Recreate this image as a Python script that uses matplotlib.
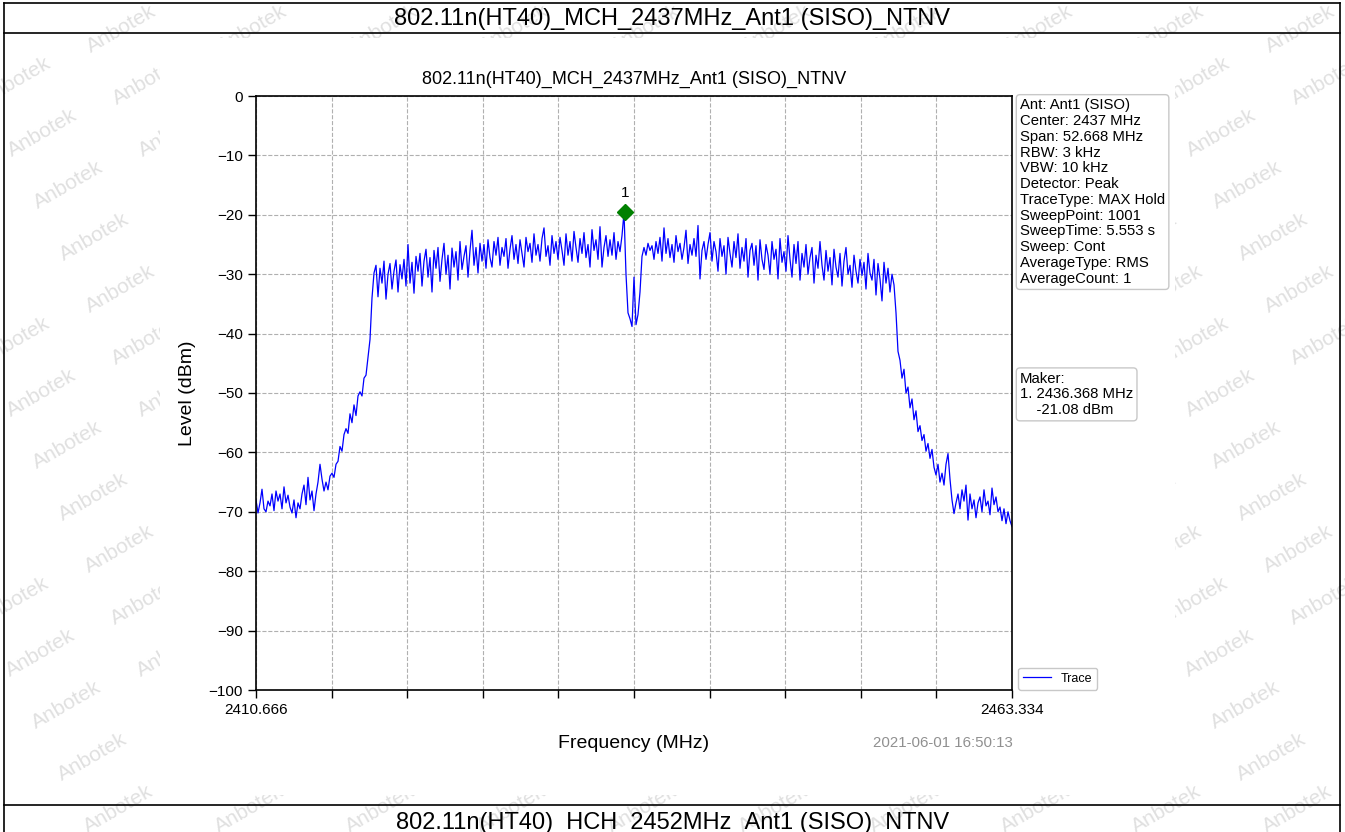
import numpy as np
import matplotlib
matplotlib.use("Agg")
import matplotlib.pyplot as plt
from matplotlib.lines import Line2D
from matplotlib.patches import Rectangle

plt.rcParams["font.family"] = ["Liberation Sans", "DejaVu Sans"]

W, H = 1345, 832

title = "802.11n(HT40)_MCH_2437MHz_Ant1 (SISO)_NTNV"
next_title = "802.11n(HT40)_HCH_2452MHz_Ant1 (SISO)_NTNV"
f_start, f_stop = 2410.666, 2463.334
y_ticks = [0, -10, -20, -30, -40, -50, -60, -70, -80, -90, -100]
x_tick_labels = ["2410.666", "", "", "", "", "", "", "", "", "", "2463.334"]
date_text = "2021-06-01 16:50:13"
info_lines = ["Ant: Ant1 (SISO)", "Center: 2437 MHz", "Span: 52.668 MHz", "RBW: 3 kHz",
              "VBW: 10 kHz", "Detector: Peak", "TraceType: MAX Hold", "SweepPoint: 1001",
              "SweepTime: 5.553 s", "Sweep: Cont", "AverageType: RMS", "AverageCount: 1"]
marker_freq = 2436.368
marker_level_text = -21.08

floor_left = [-68.0, -70.2, -68.5, -66.2, -69.5, -70.0, -68.2, -69.0, -67.0, -69.8,
              -66.5, -68.2, -67.0, -69.5, -65.8, -68.5, -67.2, -69.2, -70.2, -68.0,
              -71.0, -68.5, -69.5, -67.0, -65.5, -68.8, -64.2, -68.0, -66.5, -69.8,
              -67.0, -65.0]
skirt_left = [-62.0, -64.5, -66.5, -65.0, -66.3, -64.0, -63.5, -64.2, -62.0, -61.5,
              -59.0, -59.8, -57.0, -56.0, -56.8, -53.5, -55.0, -52.0, -53.8, -50.5,
              -49.8, -50.5, -47.5, -47.0, -44.0, -41.0, -34.0, -29.8]
plateau_left = [-28.5, -33.8, -29.0, -31.5, -27.8, -34.2, -30.0, -28.2, -32.5, -29.5,
                -27.6, -33.0, -28.4, -30.8, -27.5, -32.0,
                -25.0, -31.5, -28.0, -33.2, -27.0, -29.5, -26.5, -32.0, -27.8, -25.8,
                -30.5, -27.2, -33.0, -26.0, -29.0, -25.5, -31.2, -27.5, -24.8, -30.0,
                -26.8, -32.5, -25.6, -28.8, -26.2, -31.0, -24.5, -29.2, -27.0, -25.2,
                -30.5, -26.0, -22.6, -28.5, -25.5, -29.8, -24.8, -27.8,
                -25.0, -29.0, -24.2, -27.2, -28.8, -24.5, -26.8, -23.8, -28.5, -25.5,
                -27.0, -24.0, -29.0, -25.8, -23.5, -27.5, -25.0, -28.2, -24.2, -26.5,
                -28.8, -23.8, -26.2, -24.8, -28.0, -23.2, -26.8, -25.0, -27.8, -24.0,
                -22.2, -27.0, -25.2, -28.5, -23.5, -26.5, -24.5, -27.5, -23.8,
                -26.0, -28.5, -23.2, -26.8, -24.5, -27.8, -22.8, -25.5, -28.0, -24.0,
                -26.5, -23.0, -27.2, -25.0, -28.8, -22.5, -26.0, -24.2, -27.5, -22.0,
                -28.8, -25.5, -23.5, -27.0, -24.2, -26.8, -23.0, -27.5, -24.5, -26.2,
                -23.5]
center_notch = [-19.6, -30.0, -36.5, -37.5, -38.8, -30.5, -38.5, -36.8, -33.0, -27.0]
plateau_right = [-25.5, -26.8, -24.8, -26.0, -25.2, -27.5, -24.5, -26.5, -23.8, -27.8,
                 -22.2, -26.5, -24.0, -27.2, -25.0, -28.0, -23.5, -26.2, -24.8, -27.5,
                 -25.5, -22.6, -28.2, -25.0, -26.8, -24.0, -27.0, -21.8, -30.8, -26.0,
                 -24.5, -27.5, -25.0, -23.0,
                 -27.8, -24.5, -26.2, -29.5, -24.0, -27.0, -25.2, -30.0, -23.8, -26.5,
                 -28.8, -24.5, -27.2, -23.2, -29.0, -25.5, -27.8, -24.0, -30.5, -26.0,
                 -24.8, -28.5, -25.2, -31.0, -24.2, -27.5, -29.2, -25.0, -26.8, -30.0,
                 -24.5, -27.5, -25.8, -30.8, -24.0, -28.0, -26.2, -29.5,
                 -23.5, -27.5, -30.5, -25.0, -28.2, -24.5, -31.0, -26.5, -28.8, -25.0,
                 -30.0, -27.2, -25.5, -31.5, -26.8, -29.0, -24.5, -28.5, -31.0, -26.0,
                 -29.5, -27.2, -31.8, -25.8, -28.8, -30.5, -26.5, -32.0, -27.8, -25.5,
                 -30.0, -28.5, -32.2, -26.8, -29.5, -31.5, -27.5, -30.2, -28.0, -32.5,
                 -26.5, -29.8, -31.0, -27.5, -33.5, -28.2, -30.8, -34.5, -28.0, -31.5,
                 -29.0, -33.0, -30.0, -31.8]
skirt_right = [-36.5, -43.0, -44.5, -47.5, -46.0, -50.0, -49.0, -52.5, -51.0, -54.5,
               -53.0, -56.5, -55.5, -58.0, -57.0, -59.8, -58.5, -61.0, -59.5, -62.5,
               -63.8, -62.0, -65.0, -63.5, -65.5, -62.0, -60.2, -64.5, -68.0, -70.3]
floor_right = [-68.5, -67.0, -69.5, -66.3, -68.2, -65.5, -71.4, -67.0, -69.5, -68.0,
               -71.0, -68.5, -67.5, -70.0, -66.3, -69.0, -68.2, -70.5, -66.0, -68.8,
               -67.5, -70.0, -69.2, -71.5, -69.5, -72.0, -70.0, -71.5, -72.5]

level = np.array(floor_left + skirt_left + plateau_left + center_notch
                 + plateau_right + skirt_right + floor_right)
freq = np.linspace(f_start, f_stop, len(level))


def fx(px):
    return px / W


def fy(py):
    return 1 - py / H


fig = plt.figure(figsize=(W / 100, H / 100), dpi=100)
fig.patch.set_facecolor("white")

# watermark behind the chart image
for k in range(-2, 18):
    for m in range(-3, 12):
        px = 16 + 26 * k + 131 * m
        py = 81 + 52 * k
        if 10 < px < W - 10 and 25 < py < 815:
            fig.text(fx(px), fy(py), "Anbotek", fontsize=15, color="#e0e0e0",
                     rotation=30, ha="center", va="center", zorder=-3)
fig.add_artist(Rectangle((fx(160), fy(795)), fx(1175) - fx(160), fy(38) - fy(795),
                         transform=fig.transFigure, facecolor="white",
                         edgecolor="none", zorder=-2))

# page table lines
for py in [3, 33, 805]:
    fig.add_artist(Line2D([fx(4), fx(1340)], [fy(py), fy(py)], color="black",
                          lw=1.2, transform=fig.transFigure, zorder=5))
for px in [4, 1340]:
    fig.add_artist(Line2D([fx(px), fx(px)], [fy(3), fy(832)], color="black",
                          lw=1.2, transform=fig.transFigure, zorder=5))
fig.text(0.5, fy(19), title, fontsize=17, ha="center", va="center")
fig.text(0.5, fy(823), next_title, fontsize=17, ha="center", va="center")

ax = fig.add_axes([fx(256), fy(690), fx(1012) - fx(256), fy(96) - fy(690)])
ax.plot(freq, level, color="blue", lw=0.9, label="Trace")

peak_level = level.max()
ax.plot([marker_freq], [peak_level], "D", color="green", markersize=8, zorder=4)
ax.annotate("1", (marker_freq, peak_level), xytext=(0, 9), textcoords="offset points",
            ha="center", va="bottom", fontsize=11)

ax.set_xlim(f_start, f_stop)
ax.set_ylim(-100, 0)
ax.set_xticks(np.linspace(f_start, f_stop, len(x_tick_labels)))
ax.set_xticklabels(x_tick_labels)
ax.set_yticks(y_ticks)
ax.tick_params(direction="out", length=6, width=1, labelsize=11, colors="black")
ax.grid(True, color="#b0b0b0", linestyle="--", linewidth=0.8)
for s in ax.spines.values():
    s.set_linewidth(1.2)

fig.text(fx(634), fy(79), title, fontsize=13, ha="center", va="center")
ax.set_ylabel("Level (dBm)", fontsize=14, labelpad=9)
ax.set_xlabel("Frequency (MHz)", fontsize=14, labelpad=13)
fig.text(fx(1013), fy(743), date_text, fontsize=10.8, color="#909090",
         ha="right", va="center")

box = dict(boxstyle="round,pad=0.25", facecolor="white", edgecolor="#c8c8c8", lw=1)
ax.text(1.0106, 0.996, "\n".join(info_lines), transform=ax.transAxes, fontsize=10.7,
        va="top", ha="left", linespacing=1.16, bbox=box)
maker_text = "Maker:\n1. %.3f MHz\n    %.2f dBm" % (marker_freq, marker_level_text)
ax.text(1.0106, 0.536, maker_text, transform=ax.transAxes, fontsize=10.7,
        va="top", ha="left", linespacing=1.16, bbox=box)

ax.legend(loc="lower left", bbox_to_anchor=(1.003, -0.006), fontsize=9,
          handlelength=2.2, borderaxespad=0.3, fancybox=True, framealpha=1,
          edgecolor="#c8c8c8")

fig.savefig("out.png", dpi=100)
